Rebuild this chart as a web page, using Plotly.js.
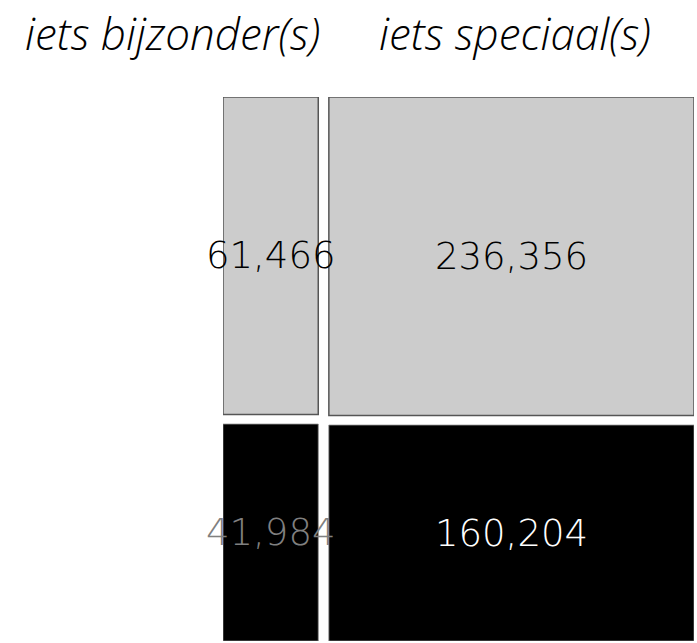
<!DOCTYPE html>
<html>
<head>
<meta charset="utf-8">
<script src="https://cdn.plot.ly/plotly-3.0.1.min.js"></script>
<style>
  html, body { margin: 0; padding: 0; background: #fff; }
  #chart { width: 697px; height: 643px; }
</style>
</head>
<body>
<div id="chart"></div>
<script>
// Data
const categories = ["iets bijzonder(s)", "iets speciaal(s)"];
const topValues = [61466, 236356];     // grey (top) segment
const bottomValues = [41984, 160204];  // black (bottom) segment

// Layout helpers (gaps in data units)
const gapX = 11500;
const gapY = 0.0178;

const totals = categories.map((c, i) => topValues[i] + bottomValues[i]);
const starts = [];
let acc = 0;
totals.forEach((t, i) => { starts.push(acc); acc += t + gapX; });
const xEnd = acc - gapX;
const centers = totals.map((t, i) => starts[i] + t / 2);
const topFrac = totals.map((t, i) => topValues[i] / t);
const bottomFrac = totals.map((t, i) => bottomValues[i] / t);

const numFont = '"DejaVu Sans", "Open Sans", sans-serif';
const titleFont = '"Open Sans", "Noto Sans", sans-serif';

// y axis reversed: top segment occupies [0, topFrac], bottom segment below the gap
const traceTop = {
  type: 'bar',
  x: centers,
  y: topFrac,
  base: 0,
  width: totals,
  marker: { color: '#cccccc', line: { color: '#555555', width: 1.5 } },
  hoverinfo: 'skip',
  showlegend: false
};
const traceBottom = {
  type: 'bar',
  x: centers,
  y: bottomFrac,
  base: topFrac.map(t => t + gapY),
  width: totals,
  marker: { color: '#000000', line: { color: '#888888', width: 0.8 } },
  hoverinfo: 'skip',
  showlegend: false
};

const fmt = v => v.toLocaleString('en-US');
const annotations = [];
categories.forEach((c, i) => {
  annotations.push({
    x: centers[i], y: topFrac[i] / 2,
    xref: 'x', yref: 'y', text: fmt(topValues[i]), showarrow: false,
    font: { family: numFont, size: 37, color: '#000000', weight: 200 }
  });
  annotations.push({
    x: centers[i], y: topFrac[i] + gapY + bottomFrac[i] / 2,
    xref: 'x', yref: 'y', text: fmt(bottomValues[i]), showarrow: false,
    font: { family: numFont, size: 37, color: i === 0 ? '#808080' : '#ffffff', weight: 200 }
  });
});
// Column headers
annotations.push({
  x: starts[0] + totals[0], y: 1, xref: 'x', yref: 'paper', yshift: 64, xshift: 4,
  xanchor: 'right', yanchor: 'middle', text: '<i>' + categories[0] + '</i>', showarrow: false,
  font: { family: titleFont, size: 44, color: '#000000', weight: 300 }
});
annotations.push({
  x: centers[1], y: 1, xref: 'x', yref: 'paper', yshift: 64, xshift: 4,
  xanchor: 'center', yanchor: 'middle', text: '<i>' + categories[1] + '</i>', showarrow: false,
  font: { family: titleFont, size: 44, color: '#000000', weight: 300 }
});

const layout = {
  width: 697, height: 643,
  margin: { l: 223, r: 3, t: 97, b: 2, pad: 0 },
  paper_bgcolor: '#ffffff', plot_bgcolor: '#ffffff',
  barmode: 'overlay',
  xaxis: { range: [0, xEnd], visible: false, fixedrange: true },
  yaxis: { range: [1 + gapY, 0], visible: false, fixedrange: true },
  annotations: annotations
};

Plotly.newPlot('chart', [traceTop, traceBottom], layout, { displayModeBar: false, staticPlot: true });
</script>
</body>
</html>
